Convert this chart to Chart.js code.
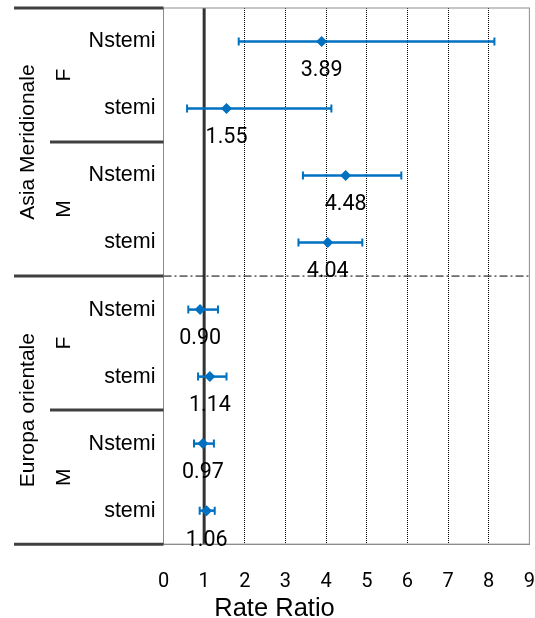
<!DOCTYPE html>
<html>
<head>
<meta charset="utf-8">
<script src="https://cdn.jsdelivr.net/npm/chart.js@4/dist/chart.umd.min.js"></script>
<style>
  html, body { margin: 0; padding: 0; background: #fff; }
  #wrap { width: 535px; height: 618px; }
</style>
</head>
<body>
<div id="wrap"><canvas id="c" width="535" height="618"></canvas></div>
<script>
// ---- data ----
const rowLabels = ['Nstemi', 'stemi', 'Nstemi', 'stemi', 'Nstemi', 'stemi', 'Nstemi', 'stemi'];
const sexLabels = ['F', 'M', 'F', 'M'];
const regionLabels = ['Asia Meridionale', 'Europa orientale'];
const rateRatio = [3.89, 1.55, 4.48, 4.04, 0.90, 1.14, 0.97, 1.06];
const ciLow  = [1.85, 0.58, 3.43, 3.32, 0.61, 0.85, 0.75, 0.89];
const ciHigh = [8.14, 4.13, 5.85, 4.89, 1.34, 1.55, 1.24, 1.26];
const xTicks = [0, 1, 2, 3, 4, 5, 6, 7, 8, 9];
const refValue = 1;

const BLUE = '#0070C0';
const DARK = '#404040';

const points = rateRatio.map((v, i) => ({ x: v, y: i }));

const forestPlugin = {
  id: 'forest',
  beforeDatasetsDraw(chart) {
    const { ctx, chartArea: ca, scales: { x, y } } = chart;
    ctx.save();
    // reference line at 1
    const xr = x.getPixelForValue(refValue);
    ctx.strokeStyle = '#333333';
    ctx.lineWidth = 3;
    ctx.beginPath(); ctx.moveTo(xr, ca.top); ctx.lineTo(xr, ca.bottom); ctx.stroke();
    // dash-dot separator between regions
    const ySep = (y.getPixelForValue(3) + y.getPixelForValue(4)) / 2;
    ctx.strokeStyle = '#000';
    ctx.lineWidth = 1;
    ctx.setLineDash([8, 3, 2, 3]);
    ctx.beginPath(); ctx.moveTo(ca.left, ySep); ctx.lineTo(ca.right, ySep); ctx.stroke();
    ctx.setLineDash([]);
    // error bars
    ctx.strokeStyle = BLUE;
    for (let i = 0; i < rateRatio.length; i++) {
      const py = y.getPixelForValue(i);
      const xl = x.getPixelForValue(ciLow[i]);
      const xh = x.getPixelForValue(ciHigh[i]);
      ctx.lineWidth = 2.5;
      ctx.beginPath(); ctx.moveTo(xl, py); ctx.lineTo(xh, py); ctx.stroke();
      ctx.lineWidth = 2;
      ctx.beginPath();
      ctx.moveTo(xl, py - 4); ctx.lineTo(xl, py + 4);
      ctx.moveTo(xh, py - 4); ctx.lineTo(xh, py + 4);
      ctx.stroke();
    }
    ctx.restore();
  },
  afterDatasetsDraw(chart) {
    const { ctx, chartArea: ca, scales: { x, y } } = chart;
    ctx.save();
    // plot border
    ctx.strokeStyle = '#8c8c8c';
    ctx.lineWidth = 1;
    ctx.strokeRect(ca.left, ca.top, ca.right - ca.left, ca.bottom - ca.top);
    // value labels
    ctx.fillStyle = '#000';
    ctx.font = '21.5px Roboto';
    ctx.textAlign = 'center';
    ctx.textBaseline = 'middle';
    for (let i = 0; i < rateRatio.length; i++) {
      const px = x.getPixelForValue(rateRatio[i]);
      const py = y.getPixelForValue(i);
      ctx.fillText(rateRatio[i].toFixed(2), px, py + 29.5);
    }
    // left hierarchy separators
    const half = (y.getPixelForValue(1) - y.getPixelForValue(0)) / 2;
    const edge = i => y.getPixelForValue(i) - half;
    ctx.strokeStyle = DARK;
    ctx.lineWidth = 3;
    const lines = [[0, 14], [2, 50], [4, 14], [6, 50], [8, 14]];
    ctx.beginPath();
    lines.forEach(([i, x0]) => {
      const yy = i === 8 ? y.getPixelForValue(7) + half : edge(i);
      ctx.moveTo(x0, yy); ctx.lineTo(ca.left, yy);
    });
    ctx.stroke();
    // rotated labels
    ctx.fillStyle = '#000';
    ctx.font = '21px "Liberation Sans", Arial, sans-serif';
    ctx.textAlign = 'center';
    ctx.textBaseline = 'middle';
    const rot = (txt, cx, cy) => {
      ctx.save(); ctx.translate(cx, cy); ctx.rotate(-Math.PI / 2); ctx.fillText(txt, 0, 0); ctx.restore();
    };
    sexLabels.forEach((s, k) => {
      const cy = (y.getPixelForValue(2 * k) + y.getPixelForValue(2 * k + 1)) / 2;
      rot(s, 64, cy);
    });
    regionLabels.forEach((r, k) => {
      const cy = (y.getPixelForValue(4 * k) + y.getPixelForValue(4 * k + 3)) / 2;
      rot(r, 28, cy);
    });
    ctx.restore();
  }
};

new Chart(document.getElementById('c'), {
  type: 'scatter',
  data: {
    datasets: [{
      data: points,
      pointStyle: 'rectRot',
      pointRadius: 5.5,
      pointHoverRadius: 5.5,
      backgroundColor: BLUE,
      borderColor: BLUE,
      borderWidth: 0,
      showLine: false
    }]
  },
  options: {
    responsive: false,
    animation: false,
    events: [],
    layout: { padding: { left: 14, right: 0, top: 8, bottom: 0 } },
    plugins: {
      legend: { display: false },
      tooltip: { enabled: false },
      title: {
        display: true,
        position: 'bottom',
        text: 'Rate Ratio',
        color: '#000',
        font: { family: '"Liberation Sans", Arial, sans-serif', size: 25.5, weight: 'normal', lineHeight: 0.7 },
        padding: 0
      }
    },
    scales: {
      x: {
        type: 'linear',
        min: 0,
        max: 9,
        afterBuildTicks: s => { s.ticks = xTicks.map(v => ({ value: v })); },
        afterFit: s => { s.height = 56; },
        ticks: {
          color: '#000',
          font: { family: 'Roboto', size: 20 },
          padding: 0,
          maxRotation: 0
        },
        grid: {
          drawTicks: true,
          tickLength: 26,
          tickColor: 'rgba(0,0,0,0)',
          color: ctx => (ctx.tick && (ctx.tick.value === 0 || ctx.tick.value === 9)) ? 'rgba(0,0,0,0)' : '#000',
          lineWidth: 1
        },
        border: { display: true, color: '#8c8c8c', width: 1, dash: [1, 1] }
      },
      y: {
        type: 'category',
        labels: rowLabels,
        offset: true,
        reverse: false,
        afterFit: s => { s.width = 149.5; },
        ticks: {
          color: '#000',
          font: { family: '"Liberation Sans", Arial, sans-serif', size: 21.5, lineHeight: 0.6 },
          padding: 0,
          autoSkip: false
        },
        grid: { display: true, drawOnChartArea: false, drawTicks: true, tickLength: 8, color: 'rgba(0,0,0,0)', tickColor: 'rgba(0,0,0,0)' },
        border: { display: true, color: '#8c8c8c', width: 1 }
      }
    }
  },
  plugins: [forestPlugin]
});
</script>
</body>
</html>
